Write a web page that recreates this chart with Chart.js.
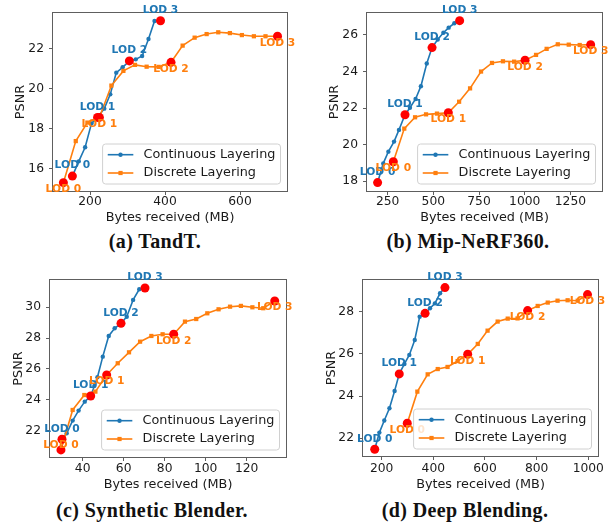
<!DOCTYPE html>
<html>
<head>
<meta charset="utf-8">
<script src="https://cdn.jsdelivr.net/npm/chart.js@4.4.1/dist/chart.umd.min.js"></script>
<style>
  html, body { margin:0; padding:0; background:#fff; }
  body { width:611px; height:522px; position:relative; overflow:hidden; }
  .panel { position:absolute; }
  .panel canvas { display:block; }
  .cap { position:absolute; width:300px; text-align:center; font-family:"Liberation Serif", serif; font-weight:bold;
         font-size:20px; line-height:20px; letter-spacing:0.4px; color:#111; white-space:nowrap; }
</style>
</head>
<body>
<div class="panel" style="left:0;top:0"><canvas id="cA" width="305" height="228"></canvas></div>
<div class="panel" style="left:305px;top:0"><canvas id="cB" width="306" height="228"></canvas></div>
<div class="panel" style="left:0;top:262px"><canvas id="cC" width="305" height="232"></canvas></div>
<div class="panel" style="left:305px;top:262px"><canvas id="cD" width="306" height="232"></canvas></div>
<div class="cap" style="left:5px;top:231px">(a) TandT.</div>
<div class="cap" style="left:318px;top:231px">(b) Mip-NeRF360.</div>
<div class="cap" style="left:2px;top:500px">(c) Synthetic Blender.</div>
<div class="cap" style="left:315px;top:500px">(d) Deep Blending.</div>
<script>
// ---------- data ----------
const seriesNames = ['Continuous Layering', 'Discrete Layering'];
const lodNames = ['LOD 0', 'LOD 1', 'LOD 2', 'LOD 3'];
const xAxisTitle = 'Bytes received (MB)';
const yAxisTitle = 'PSNR';

// (a) TandT
const tandtContBytes = [153, 170, 187, 204, 220, 238, 254, 270, 287, 305, 322, 339, 356, 372, 388];
const tandtContPsnr  = [15.61, 16.35, 17.06, 18.26, 18.56, 19.0, 19.72, 20.81, 21.08, 21.4, 21.48, 21.65, 22.5, 23.41, 23.42];
const tandtContLod   = [0, 4, 9, 14];
const tandtDiscBytes = [129, 162, 193, 225, 257, 289, 320, 351, 383, 416, 447, 479, 511, 542, 573, 605, 637, 668, 700];
const tandtDiscPsnr  = [15.28, 17.37, 18.3, 18.56, 20.16, 20.9, 21.2, 21.11, 21.1, 21.33, 22.17, 22.57, 22.75, 22.84, 22.8, 22.7, 22.64, 22.64, 22.64];
const tandtDiscLod   = [0, 3, 9, 18];
const tandtXTicks = [200, 400, 600];
const tandtYTicks = [16, 18, 20, 22];

// (b) Mip-NeRF360
const mipContBytes = [195, 226, 254, 285, 312, 345, 372, 403, 432, 464, 493, 524, 555, 584, 615, 644];
const mipContPsnr  = [17.93, 18.98, 19.62, 20.17, 20.81, 21.64, 22.02, 22.5, 23.2, 24.44, 25.31, 25.75, 26.12, 26.4, 26.64, 26.78];
const mipContLod   = [0, 5, 10, 15];
const mipDiscBytes = [281, 341, 400, 460, 520, 582, 641, 701, 761, 821, 881, 942, 1002, 1062, 1120, 1181, 1241, 1301, 1361];
const mipDiscPsnr  = [19.07, 20.88, 21.5, 21.66, 21.7, 21.75, 22.35, 23.08, 24.0, 24.47, 24.56, 24.54, 24.62, 24.91, 25.24, 25.49, 25.47, 25.45, 25.47];
const mipDiscLod   = [0, 5, 12, 18];
const mipXTicks = [250, 500, 750, 1000, 1250];
const mipYTicks = [18, 20, 22, 24, 26];

// (c) Synthetic Blender
const blenderContBytes = [29.9, 32.2, 35.1, 38.0, 41.0, 43.9, 45.7, 47.2, 49.8, 52.7, 55.6, 58.7, 61.5, 64.6, 67.6, 70.4];
const blenderContPsnr  = [21.44, 21.83, 22.65, 23.3, 23.88, 24.25, 24.9, 25.46, 26.8, 28.14, 28.64, 28.96, 29.39, 30.48, 31.17, 31.25];
const blenderContLod   = [0, 5, 11, 15];
const blenderDiscBytes = [29.4, 35.1, 40.8, 46.2, 51.7, 57.1, 62.6, 68.0, 73.5, 79.0, 84.4, 89.9, 95.4, 100.8, 106.3, 111.9, 117.2, 122.8, 128.1, 133.7];
const blenderDiscPsnr  = [20.75, 23.34, 24.31, 24.53, 25.61, 26.37, 27.08, 27.77, 28.14, 28.25, 28.25, 29.07, 29.24, 29.61, 29.87, 30.04, 30.09, 30.0, 29.94, 30.41];
const blenderDiscLod   = [0, 4, 10, 19];
const blenderXTicks = [40, 60, 80, 100, 120];
const blenderYTicks = [22, 24, 26, 28, 30];

// (d) Deep Blending
const deepContBytes = [173, 191, 210, 230, 250, 268, 288, 307, 328, 347, 368, 387, 406, 426, 445];
const deepContPsnr  = [21.48, 22.27, 22.84, 23.42, 24.24, 25.05, 25.52, 25.95, 26.66, 27.76, 27.92, 28.16, 28.39, 28.87, 29.14];
const deepContLod   = [0, 5, 10, 14];
const deepDiscBytes = [299, 338, 378, 417, 455, 494, 533, 572, 610, 649, 688, 726, 765, 804, 843, 881, 920, 959, 997];
const deepDiscPsnr  = [22.71, 24.21, 25.03, 25.28, 25.38, 25.66, 25.98, 26.47, 27.1, 27.53, 27.67, 27.68, 28.05, 28.27, 28.43, 28.52, 28.54, 28.52, 28.81];
const deepDiscLod   = [0, 6, 12, 18];
const deepXTicks = [200, 400, 600, 800, 1000];
const deepYTicks = [22, 24, 26, 28];

// ---------- styles / layout ----------
const BLUE = '#1f77b4', ORANGE = '#ff7f0e', RED = '#ff0000';
const FRAME = '#5e5e5e', TEXT = '#1a1a1a';
const FONT = '"DejaVu Sans", sans-serif';
const TICK_FS = 12.3, LAB_FS = 12.8, LOD_FS = 10.7;
const TICK_LEN = 4;

const panels = [
  { canvas:'cA', w:305, h:228, L:53, T:13, R:287, B:191, yTitleX:20.7, xTitleY:217.7, xTickY:201.7,
    xRange:[101.3, 725.3], yRange:[14.86, 23.81], xTicks:tandtXTicks, yTicks:tandtYTicks,
    cont:[tandtContBytes, tandtContPsnr, tandtContLod], disc:[tandtDiscBytes, tandtDiscPsnr, tandtDiscLod], discShift:{} },
  { canvas:'cB', w:306, h:228, L:62, T:13, R:297, B:191, yTitleX:30, xTitleY:217.7, xTickY:201.7,
    xRange:[137, 1423], yRange:[17.47, 27.2], xTicks:mipXTicks, yTicks:mipYTicks,
    cont:[mipContBytes, mipContPsnr, mipContLod], disc:[mipDiscBytes, mipDiscPsnr, mipDiscLod], discShift:{} },
  { canvas:'cC', w:305, h:232, L:50, T:18, R:286, B:195, yTitleX:18.3, xTitleY:222.3, xTickY:207.2,
    xRange:[24.05, 139.2], yRange:[20.29, 31.77], xTicks:blenderXTicks, yTicks:blenderYTicks,
    cont:[blenderContBytes, blenderContPsnr, blenderContLod], disc:[blenderDiscBytes, blenderDiscPsnr, blenderDiscLod], discShift:{0:-4.3} },
  { canvas:'cD', w:306, h:232, L:58, T:18, R:293, B:194, yTitleX:26.7, xTitleY:222.3, xTickY:207,
    xRange:[127.6, 1037.6], yRange:[21.16, 29.5], xTicks:deepXTicks, yTicks:deepYTicks,
    cont:[deepContBytes, deepContPsnr, deepContLod], disc:[deepDiscBytes, deepDiscPsnr, deepDiscLod], discShift:{} }
];

function pts(xs, ys) { return xs.map((x, i) => ({ x: x, y: ys[i] })); }
function lodPts(xs, ys, idx) { return idx.map(i => ({ x: xs[i], y: ys[i] })); }

const framePlugin = {
  id: 'frame',
  afterDatasetsDraw(chart) {
    const a = chart.chartArea, ctx = chart.ctx;
    ctx.save();
    ctx.strokeStyle = FRAME; ctx.lineWidth = 1;
    ctx.strokeRect(a.left - 0.5, a.top - 0.5, a.right - a.left + 1, a.bottom - a.top + 1);
    ctx.restore();
  }
};

const lodPlugin = {
  id: 'lodLabels',
  afterDatasetsDraw(chart, args, opts) {
    const ctx = chart.ctx, xs = chart.scales.x, ys = chart.scales.y;
    const p = opts.panel;
    ctx.save();
    ctx.font = 'bold ' + LOD_FS + 'px ' + FONT;
    ctx.textAlign = 'center';
    ctx.textBaseline = 'middle';
    const groups = [[p.cont, BLUE, -10.5, {}], [p.disc, ORANGE, 6.7, p.discShift]];
    groups.forEach(([s, col, dy, shift]) => {
      ctx.fillStyle = col;
      s[2].forEach((idx, k) => {
        const px = xs.getPixelForValue(s[0][idx]);
        const py = ys.getPixelForValue(s[1][idx]);
        const d = (shift[k] !== undefined) ? shift[k] : dy;
        ctx.fillText(lodNames[k], px, py + d);
      });
    });
    ctx.restore();
  }
};

const legendPlugin = {
  id: 'boxLegend',
  afterDraw(chart) {
    const ctx = chart.ctx, a = chart.chartArea;
    const fs = LAB_FS;
    ctx.save();
    ctx.font = fs + 'px ' + FONT;
    const tw = Math.max.apply(null, seriesNames.map(n => ctx.measureText(n).width));
    const pad = 0.4 * fs, hl = 2 * fs, hp = 0.8 * fs;
    const w = pad + hl + hp + tw + pad;
    const h = 40;
    const x0 = a.right - 6.5 - w, y0 = a.bottom - 7 - h;
    const r = 3;
    ctx.beginPath();
    ctx.moveTo(x0 + r, y0);
    ctx.lineTo(x0 + w - r, y0); ctx.arcTo(x0 + w, y0, x0 + w, y0 + r, r);
    ctx.lineTo(x0 + w, y0 + h - r); ctx.arcTo(x0 + w, y0 + h, x0 + w - r, y0 + h, r);
    ctx.lineTo(x0 + r, y0 + h); ctx.arcTo(x0, y0 + h, x0, y0 + h - r, r);
    ctx.lineTo(x0, y0 + r); ctx.arcTo(x0, y0, x0 + r, y0, r);
    ctx.closePath();
    ctx.fillStyle = 'rgba(255,255,255,0.8)';
    ctx.fill();
    ctx.strokeStyle = '#d0d0d0'; ctx.lineWidth = 1;
    ctx.stroke();
    const rows = [y0 + 10.7, y0 + 29];
    const cols = [BLUE, ORANGE];
    rows.forEach((ry, i) => {
      const lx = x0 + pad;
      ctx.strokeStyle = cols[i]; ctx.lineWidth = 1.6;
      ctx.beginPath(); ctx.moveTo(lx, ry); ctx.lineTo(lx + hl, ry); ctx.stroke();
      ctx.fillStyle = cols[i];
      const cx = lx + hl / 2;
      if (i === 0) { ctx.beginPath(); ctx.arc(cx, ry, 2.2, 0, Math.PI * 2); ctx.fill(); }
      else { ctx.fillRect(cx - 2.1, ry - 2.1, 4.2, 4.2); }
      ctx.fillStyle = TEXT;
      ctx.textAlign = 'left'; ctx.textBaseline = 'middle';
      ctx.fillText(seriesNames[i], lx + hl + hp, ry);
    });
    ctx.restore();
  }
};

function makeChart(p) {
  const LH = LAB_FS * 1.2;
  const padLeft = p.yTitleX - LH / 2;
  const yWidth = p.L - padLeft;
  const xHeight = p.xTitleY + LH / 2 - p.B;
  const padBottom = p.h - (p.B + xHeight);
  const xTickPad = p.xTickY - p.B - TICK_LEN - TICK_FS / 2;
  const tickFont = { family: FONT, size: TICK_FS, lineHeight: 1 };
  const titleFont = { family: FONT, size: LAB_FS, lineHeight: 1.2 };
  const grid = { drawOnChartArea: false, drawTicks: true, tickLength: TICK_LEN, color: FRAME, lineWidth: 1 };

  new Chart(document.getElementById(p.canvas), {
    type: 'scatter',
    data: {
      datasets: [
        { label: seriesNames[0], data: pts(p.cont[0], p.cont[1]), showLine: true,
          borderColor: BLUE, backgroundColor: BLUE, borderWidth: 1.6,
          pointStyle: 'circle', pointRadius: 2.2, pointBorderWidth: 0, pointBackgroundColor: BLUE,
          order: 3, clip: false },
        { label: seriesNames[1], data: pts(p.disc[0], p.disc[1]), showLine: true,
          borderColor: ORANGE, backgroundColor: ORANGE, borderWidth: 1.6,
          pointStyle: 'rect', pointRadius: 3, pointBorderWidth: 0, pointBackgroundColor: ORANGE,
          order: 2, clip: false },
        { label: 'LOD continuous', data: lodPts(p.cont[0], p.cont[1], p.cont[2]), showLine: false,
          pointStyle: 'circle', pointRadius: 4.5, pointBorderWidth: 0, backgroundColor: RED, pointBackgroundColor: RED,
          order: 1, clip: false },
        { label: 'LOD discrete', data: lodPts(p.disc[0], p.disc[1], p.disc[2]), showLine: false,
          pointStyle: 'circle', pointRadius: 4.5, pointBorderWidth: 0, backgroundColor: RED, pointBackgroundColor: RED,
          order: 0, clip: false }
      ]
    },
    options: {
      responsive: false, animation: false, devicePixelRatio: 1, events: [],
      layout: { padding: { left: padLeft, top: p.T, right: p.w - p.R, bottom: padBottom } },
      plugins: { legend: { display: false }, tooltip: { enabled: false }, lodLabels: { panel: p } },
      scales: {
        x: {
          type: 'linear', position: 'bottom', min: p.xRange[0], max: p.xRange[1],
          afterBuildTicks: s => { s.ticks = p.xTicks.map(v => ({ value: v })); },
          afterFit: s => { s.height = xHeight; },
          ticks: { font: tickFont, color: TEXT, padding: xTickPad, maxRotation: 0, autoSkip: false, callback: v => String(v) },
          grid: grid, border: { display: false },
          title: { display: true, text: xAxisTitle, font: titleFont, color: TEXT, padding: 0 }
        },
        y: {
          type: 'linear', position: 'left', min: p.yRange[0], max: p.yRange[1],
          afterBuildTicks: s => { s.ticks = p.yTicks.map(v => ({ value: v })); },
          afterFit: s => { s.width = yWidth; },
          ticks: { font: tickFont, color: TEXT, padding: 5, autoSkip: false, callback: v => String(v) },
          grid: grid, border: { display: false },
          title: { display: true, text: yAxisTitle, font: titleFont, color: TEXT, padding: 0 }
        }
      }
    },
    plugins: [framePlugin, lodPlugin, legendPlugin]
  });
}

panels.forEach(makeChart);
</script>
</body>
</html>
